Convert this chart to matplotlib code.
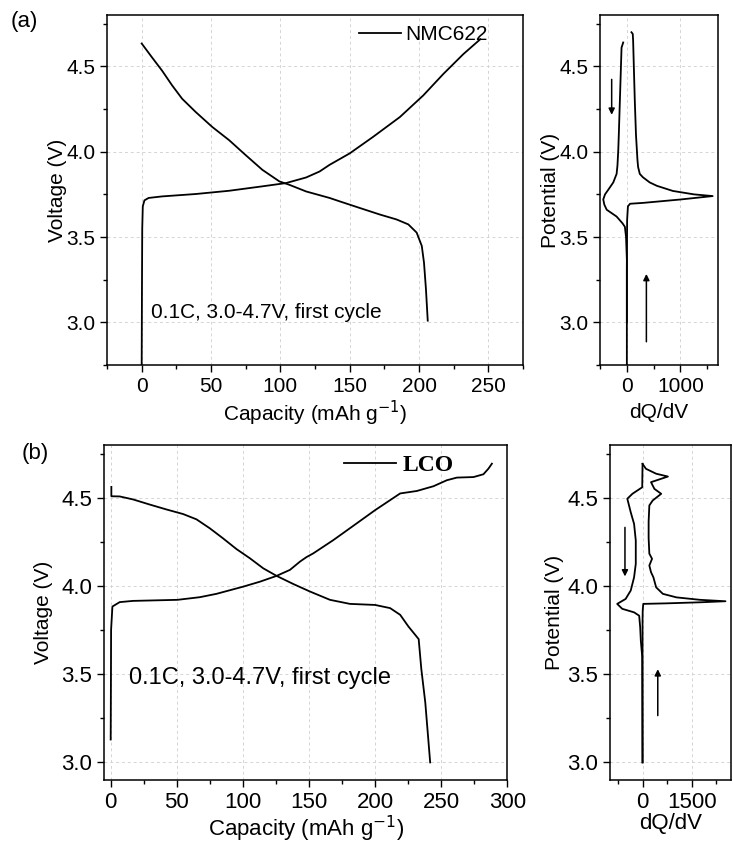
import numpy as np
import matplotlib
matplotlib.use('agg')
import matplotlib.pyplot as plt
from matplotlib.ticker import MultipleLocator, FormatStrFormatter

plt.rcParams['font.family'] = ['Liberation Sans', 'DejaVu Sans']

# ---------------- NMC622 (a) ----------------
nmc_chg_cap = [0, 0.2, 0.4, 0.8, 2, 5, 14.7, 38.9, 63, 87, 104, 118.6, 128.3, 135.5, 150, 166.9, 186.2, 203.1, 217.6, 232, 244.2]
nmc_chg_v = [2.75, 3.2, 3.55, 3.68, 3.715, 3.729, 3.738, 3.752, 3.771, 3.797, 3.816, 3.849, 3.884, 3.923, 3.99, 4.087, 4.203, 4.33, 4.456, 4.572, 4.659]
nmc_dis_cap = [0, 7.5, 14.7, 22, 29.2, 38.9, 50.9, 63, 75, 87, 99.3, 106.5, 118.6, 135.5, 142.8, 157, 171.7, 183.8, 192.3, 198.3, 202, 203.6, 205, 206.3]
nmc_dis_v = [4.634, 4.552, 4.475, 4.388, 4.31, 4.233, 4.145, 4.068, 3.98, 3.894, 3.826, 3.806, 3.767, 3.729, 3.709, 3.671, 3.632, 3.603, 3.574, 3.526, 3.448, 3.35, 3.196, 3.01]

nmc_dqdv_chg_v = [2.75, 3.3, 3.6, 3.68, 3.695, 3.70, 3.72, 3.74, 3.75, 3.77, 3.80, 3.82, 3.85, 3.87, 3.91, 3.95, 4.10, 4.30, 4.50, 4.65, 4.69, 4.70]
nmc_dqdv_chg = [0, 0, 5, 20, 60, 300, 1000, 1600, 1250, 858, 560, 426, 300, 241, 210, 198, 170, 148, 130, 117, 110, 86]
nmc_dqdv_dis_v = [4.64, 4.61, 4.45, 4.30, 4.10, 4.01, 3.92, 3.87, 3.82, 3.78, 3.75, 3.72, 3.69, 3.66, 3.62, 3.58, 3.56, 3.50, 3.42, 3.37, 3.0]
nmc_dqdv_dis = [-68, -99, -115, -130, -150, -160, -175, -191, -253, -340, -407, -440, -420, -376, -191, -80, -37, -15, -6, 0, 0]

# ---------------- LCO (b) ----------------
lco_chg_cap = [0, 0.2, 0.3, 1.3, 6.8, 16.9, 50.5, 67.4, 80, 100.3, 112.9, 125.5, 135.6, 143.2, 148, 153.3, 168.4, 186.1, 200, 211.4,
               219, 231.6, 244.2, 254.3, 261.9, 274.5, 282, 285.8, 288.4]
lco_chg_v = [3.13, 3.5, 3.753, 3.885, 3.91, 3.917, 3.923, 3.938, 3.957, 3.998, 4.026, 4.059, 4.093, 4.14, 4.165, 4.187, 4.262, 4.357, 4.432, 4.489,
             4.527, 4.541, 4.568, 4.602, 4.617, 4.62, 4.636, 4.668, 4.696]
lco_dis_cap = [0.5, 0.5, 6.8, 16.9, 29.5, 42.2, 54.8, 64.9, 75, 85, 95.2, 105.3, 115.4, 125.5, 138.1, 150.8, 165.9, 181, 200, 211.4,
               219, 225.2, 233, 235, 238, 241.7]
lco_dis_v = [4.564, 4.511, 4.51, 4.493, 4.464, 4.436, 4.41, 4.38, 4.329, 4.272, 4.211, 4.159, 4.102, 4.059, 4.013, 3.97, 3.923, 3.9, 3.894, 3.876,
             3.838, 3.772, 3.70, 3.53, 3.34, 3.0]

lco_dqdv_chg_v = [3.0, 3.5, 3.80, 3.862, 3.9, 3.903, 3.909, 3.915, 3.923, 3.937, 3.957, 3.994, 4.051, 4.08, 4.118, 4.156, 4.185, 4.273, 4.367,
                  4.459, 4.487, 4.525, 4.553, 4.591, 4.623, 4.639, 4.667, 4.695]
lco_dqdv_chg = [0, 0, 0, 5, 22, 726, 1760, 2537, 1760, 1037, 621, 416, 332, 259, 208, 291, 208, 186, 186,
                208, 310, 571, 363, 259, 776, 416, 104, 0]
lco_dqdv_dis_v = [4.695, 4.562, 4.525, 4.497, 4.42, 4.354, 4.26, 4.127, 4.051, 3.976, 3.928, 3.9, 3.872, 3.852, 3.833, 3.767, 3.69, 3.6, 3.0]
lco_dqdv_dis = [0, -10, -310, -466, -361, -259, -207, -207, -259, -361, -518, -776, -621, -259, -103, -72, -52, -10, 0]


def style_axes(ax, fs):
    ax.grid(True, color='#d4d4d4', linestyle=(0, (3, 3)), lw=0.7)
    ax.set_axisbelow(True)
    ax.tick_params(which='both', direction='out', top=False, right=False, labelsize=fs)
    ax.tick_params(which='major', length=5, width=1)
    ax.tick_params(which='minor', length=3, width=1)
    ax.yaxis.set_major_locator(MultipleLocator(0.5))
    ax.yaxis.set_minor_locator(MultipleLocator(0.25))
    ax.yaxis.set_major_formatter(FormatStrFormatter('%.1f'))
    for s in ax.spines.values():
        s.set_linewidth(1.1)


def arrow(ax, x, y0, y1):
    ax.annotate('', xy=(x, y1), xytext=(x, y0),
                arrowprops=dict(arrowstyle='-|>', color='black', lw=1.1, mutation_scale=9))


fig = plt.figure(figsize=(7.33, 8.43), dpi=100)

# (a) left
ax1 = fig.add_axes([0.146, 0.567, 0.5675, 0.415])
ax1.plot(nmc_chg_cap, nmc_chg_v, color='black', lw=1.3, label='NMC622')
ax1.plot(nmc_dis_cap, nmc_dis_v, color='black', lw=1.3)
ax1.set_xlim(-25, 275)
ax1.set_ylim(2.75, 4.8)
ax1.xaxis.set_major_locator(MultipleLocator(50))
ax1.xaxis.set_minor_locator(MultipleLocator(25))
style_axes(ax1, 15)
ax1.set_xlabel('Capacity (mAh g$^{-1}$)', fontsize=15, labelpad=2)
ax1.set_ylabel('Voltage (V)', fontsize=15, labelpad=-1)
ax1.text(7, 3.06, '0.1C, 3.0-4.7V, first cycle', fontsize=15, va='center', ha='left')
ax1.legend(loc='upper right', bbox_to_anchor=(0.96, 1.025), frameon=False, fontsize=15,
           handlelength=2.0, handletextpad=0.2)
fig.text(0.015, 0.975, '(a)', fontsize=16, va='center')

# (a) right
ax2 = fig.add_axes([0.8186, 0.567, 0.161, 0.415])
ax2.plot(nmc_dqdv_chg, nmc_dqdv_chg_v, color='black', lw=1.3)
ax2.plot(nmc_dqdv_dis, nmc_dqdv_dis_v, color='black', lw=1.3)
ax2.set_xlim(-500, 1700)
ax2.set_ylim(2.75, 4.8)
ax2.xaxis.set_major_locator(MultipleLocator(1000))
ax2.xaxis.set_minor_locator(MultipleLocator(500))
style_axes(ax2, 15)
ax2.set_xlabel('dQ/dV', fontsize=15, labelpad=5)
ax2.set_ylabel('Potential (V)', fontsize=15, labelpad=-1)
arrow(ax2, -283, 4.44, 4.20)
arrow(ax2, 364, 2.87, 3.30)

# (b) left
ax3 = fig.add_axes([0.142, 0.0747, 0.55, 0.397])
ax3.plot(lco_chg_cap, lco_chg_v, color='black', lw=1.3, label='LCO')
ax3.plot(lco_dis_cap, lco_dis_v, color='black', lw=1.3)
ax3.set_xlim(-5, 300)
ax3.set_ylim(2.9, 4.8)
ax3.xaxis.set_major_locator(MultipleLocator(50))
ax3.xaxis.set_minor_locator(MultipleLocator(25))
style_axes(ax3, 16)
ax3.set_xlabel('Capacity (mAh g$^{-1}$)', fontsize=16, labelpad=1)
ax3.set_ylabel('Voltage (V)', fontsize=15, labelpad=6)
ax3.text(14, 3.48, '0.1C, 3.0-4.7V, first cycle', fontsize=17, va='center', ha='left')
ax3.legend(loc='upper right', bbox_to_anchor=(0.92, 1.035), frameon=False,
           prop={'family': 'Liberation Serif', 'weight': 'bold', 'size': 17},
           handlelength=2.2, handletextpad=0.3)
fig.text(0.03, 0.462, '(b)', fontsize=16, va='center')

# (b) right
ax4 = fig.add_axes([0.832, 0.0747, 0.165, 0.397])
ax4.plot(lco_dqdv_chg, lco_dqdv_chg_v, color='black', lw=1.3)
ax4.plot(lco_dqdv_dis, lco_dqdv_dis_v, color='black', lw=1.3)
ax4.set_xlim(-1000, 2700)
ax4.set_ylim(2.9, 4.8)
ax4.xaxis.set_major_locator(MultipleLocator(1500))
ax4.xaxis.set_minor_locator(MultipleLocator(750))
style_axes(ax4, 16)
ax4.set_xlabel('dQ/dV', fontsize=16, labelpad=0)
ax4.set_ylabel('Potential (V)', fontsize=15, labelpad=2)
arrow(ax4, -538, 4.35, 4.04)
arrow(ax4, 466, 3.25, 3.545)

fig.savefig('out.png', dpi=100)
